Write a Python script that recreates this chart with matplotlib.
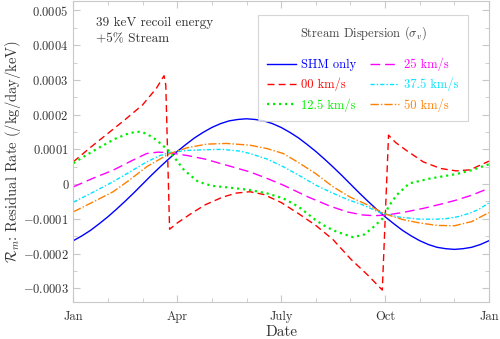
import numpy as np
import matplotlib
matplotlib.use("Agg")
import matplotlib.pyplot as plt
from matplotlib.ticker import MultipleLocator, FuncFormatter

plt.rcParams['font.family'] = 'cmr10'
plt.rcParams['mathtext.fontset'] = 'cm'
plt.rcParams['axes.unicode_minus'] = False

# --- data (x in months since Jan 1, y in 1e-4 /kg/day/keV) ---
shm_m = [0, 0.25, 0.5, 0.75, 1, 1.25, 1.5, 1.75, 2, 2.25, 2.5, 2.75, 3, 3.25,
         3.5, 3.75, 4, 4.25, 4.5, 4.75, 5, 5.25, 5.5, 5.75, 6, 6.25, 6.5,
         6.75, 7, 7.25, 7.5, 7.75, 8, 8.25, 8.5, 8.75, 9, 9.25, 9.5, 9.75, 10,
         10.25, 10.5, 10.75, 11, 11.25, 11.5, 11.75, 12]
shm_v = [-1.63, -1.49, -1.33, -1.14, -0.94, -0.72, -0.49, -0.25, 0.0, 0.25,
         0.49, 0.72, 0.94, 1.14, 1.33, 1.49, 1.63, 1.74, 1.82, 1.86, 1.88,
         1.86, 1.82, 1.74, 1.63, 1.49, 1.33, 1.14, 0.94, 0.72, 0.49, 0.25, 0.0,
         -0.25, -0.49, -0.72, -0.94, -1.14, -1.33, -1.49, -1.63, -1.74, -1.82,
         -1.86, -1.88, -1.86, -1.82, -1.74, -1.63]

red_m = [0, 0.5, 1.0, 1.5, 2.0, 2.4, 2.62, 2.67, 2.78, 3.0, 3.4, 3.8, 4.3,
         4.7, 5.1, 5.5, 6.0, 6.5, 7.0, 7.5, 8.0, 8.5, 8.92, 9.1, 9.3, 9.6,
         10.1, 10.6, 11.05, 11.45, 12.0]
red_v = [0.64, 1.06, 1.46, 1.86, 2.28, 2.76, 3.12, 2.85, -1.30, -1.12, -0.85,
         -0.60, -0.38, -0.26, -0.22, -0.30, -0.53, -0.85, -1.19, -1.60, -2.15,
         -2.62, -3.05, 1.41, 1.20, 0.98, 0.64, 0.45, 0.38, 0.41, 0.66]

green_m = [0, 0.4, 0.8, 1.2, 1.6, 1.85, 2.1, 2.4, 2.79, 3.2, 3.6, 4.0, 4.5,
           5.1, 5.6, 6.06, 6.5, 7.0, 7.3, 7.6, 8.08, 8.4, 8.65, 8.94, 9.1,
           9.33, 9.7, 10.3, 11.06, 11.5, 12.0]
green_v = [0.60, 0.85, 1.08, 1.30, 1.46, 1.51, 1.46, 1.27, 0.93, 0.40, 0.07,
           -0.05, -0.10, -0.17, -0.27, -0.41, -0.65, -1.04, -1.23, -1.37,
           -1.53, -1.45, -1.25, -0.98, -0.65, -0.32, 0.02, 0.16, 0.29, 0.40,
           0.57]

mag_m = [0, 0.6, 1.15, 1.7, 2.12, 2.45, 2.79, 3.3, 3.8, 4.4, 5.1, 5.6, 6.06,
         6.8, 7.4, 7.9, 8.36, 8.7, 9.04, 9.5, 10.1, 10.6, 11.06, 11.5, 12.0]
mag_v = [-0.08, 0.18, 0.40, 0.68, 0.88, 0.92, 0.90, 0.82, 0.72, 0.55, 0.35,
         0.16, -0.03, -0.38, -0.63, -0.80, -0.89, -0.91, -0.89, -0.82, -0.70,
         -0.58, -0.46, -0.32, -0.12]

cyan_m = [0, 0.6, 1.15, 1.6, 2.12, 2.5, 2.79, 3.3, 3.85, 4.3, 4.8, 5.1, 5.6,
          6.06, 6.5, 7.0, 7.4, 7.9, 8.36, 8.85, 9.4, 10.0, 10.5, 10.8, 11.1,
          11.44, 11.7, 12.0]
cyan_v = [-0.52, -0.22, 0.07, 0.33, 0.64, 0.82, 0.91, 0.97, 0.99, 1.00, 0.95,
          0.88, 0.72, 0.50, 0.26, -0.03, -0.22, -0.44, -0.60, -0.82, -0.95,
          -1.01, -1.01, -0.99, -0.94, -0.84, -0.73, -0.54]

orange_m = [0, 0.6, 1.15, 1.6, 2.12, 2.5, 2.79, 3.3, 3.85, 4.42, 5.1, 5.6,
            6.06, 6.5, 7.0, 7.5, 8.0, 8.5, 9.0, 9.5, 10.0, 10.5, 11.0, 11.5,
            12.0]
orange_v = [-0.80, -0.50, -0.22, 0.10, 0.50, 0.72, 0.88, 1.05, 1.15, 1.17,
            1.12, 1.02, 0.88, 0.62, 0.30, -0.08, -0.38, -0.60, -0.86, -1.02,
            -1.12, -1.19, -1.20, -1.08, -0.82]

month_ticks = [0, 3, 6, 9, 12]
month_labels = ['Jan', 'Apr', 'July', 'Oct', 'Jan']

series = [
    (shm_m, shm_v, 'SHM only', '#0000ff', dict(linestyle='-')),
    (red_m, red_v, '00 km/s', '#ff0000', dict(dashes=(5, 3))),
    (green_m, green_v, '12.5 km/s', '#00ee00', dict(dashes=(1, 1.7), lw=1.6)),
    (mag_m, mag_v, '25 km/s', '#ff00ff', dict(dashes=(7, 3.5))),
    (cyan_m, cyan_v, '37.5 km/s', '#00e5ff', dict(dashes=(3, 1.5, 1, 1.5))),
    (orange_m, orange_v, '50 km/s', '#ff8000', dict(dashes=(6, 1.5, 1, 1.5))),
]

fig = plt.figure(figsize=(5, 3.39), dpi=100)
ax = fig.add_axes([0.1466, 0.109, 0.8314, 0.888])

for m, v, lab, col, kw in series:
    kw = dict(kw)
    lw = kw.pop('lw', 1.0)
    ax.plot(m, np.array(v) * 1e-4, color=col, lw=lw, label=lab, **kw)

ax.set_xlim(0, 12)
ax.set_ylim(-3.396e-4, 5.27e-4)
ax.set_xticks(month_ticks)
ax.set_xticklabels(month_labels)
ax.xaxis.set_minor_locator(MultipleLocator(1))
ax.yaxis.set_major_locator(MultipleLocator(1e-4))
ax.yaxis.set_minor_locator(MultipleLocator(5e-5))


def yfmt(val, pos):
    if abs(val) < 1e-9:
        return '0'
    return r'$%s$' % ('%.4f' % val)


ax.yaxis.set_major_formatter(FuncFormatter(yfmt))

grey = '#c8c8c8'
for s in ax.spines.values():
    s.set_color(grey)
ax.tick_params(which='both', direction='in', top=True, right=True, color=grey,
               labelcolor='#333333', labelsize=9)
ax.tick_params(which='major', length=5)
ax.tick_params(which='minor', length=3)
ax.tick_params(axis='x', pad=6)

ax.set_xlabel('Date', fontsize=11, color='#333333', labelpad=2)
ax.set_ylabel(r'$\mathcal{R}_m$: Residual Rate (/kg/day/keV)', fontsize=10.5,
              color='#333333')
ax.yaxis.set_label_coords(-0.12, 0.5)

ax.text(0.055, 0.948, '39 keV recoil energy\n+5% Stream', transform=ax.transAxes,
        fontsize=9.5, color='#333333', va='top', ha='left', linespacing=1.45)

leg = ax.legend(ncol=2, loc='upper right', bbox_to_anchor=(0.949, 0.953),
                title=r'Stream Dispersion ($\sigma_v$)', fontsize=9,
                title_fontsize=9, frameon=True, fancybox=False,
                handlelength=2.3, columnspacing=1.1, borderpad=0.75,
                labelspacing=0.55, handletextpad=0.4, borderaxespad=0)
leg.get_frame().set_edgecolor('#cccccc')
leg.get_frame().set_linewidth(0.8)
leg.get_title().set_color('#444444')
leg._legend_box.sep = 11
for t, s in zip(leg.get_texts(), series):
    t.set_color(s[3])

fig.savefig('out.png', dpi=100)
